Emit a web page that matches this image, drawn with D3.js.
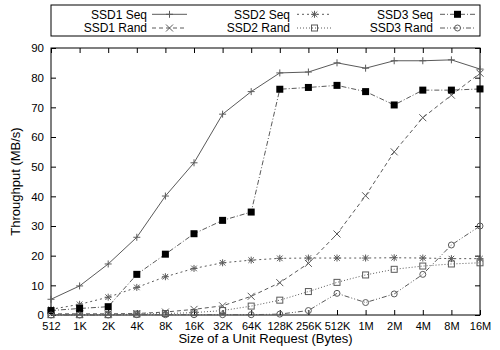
<!DOCTYPE html>
<html><head><meta charset="utf-8">
<script src="https://cdn.jsdelivr.net/npm/d3@7"></script>
<style>
body{margin:0;background:#fff}
svg text{font-family:"Liberation Sans",Arial,Helvetica,sans-serif;fill:#000}
</style>
</head><body>
<svg id="chart" width="500" height="350"></svg>
<script>
// ---- data ----
const categories = ["512","1K","2K","4K","8K","16K","32K","64K","128K","256K","512K","1M","2M","4M","8M","16M"];
const ssd1Seq  = [5.3, 9.8, 17.2, 26.2, 40.1, 51.3, 67.7, 75.3, 81.6, 81.9, 85.0, 83.2, 85.7, 85.7, 86.0, 82.9];
const ssd1Rand = [0.4, 0.4, 0.4, 0.5, 1.0, 1.9, 3.1, 6.3, 10.9, 17.4, 27.3, 40.2, 55.0, 66.5, 74.1, 81.5];
const ssd2Seq  = [1.9, 3.6, 6.0, 9.3, 12.9, 15.7, 17.6, 18.5, 19.1, 19.2, 19.2, 19.2, 19.3, 19.2, 19.0, 19.0];
const ssd2Rand = [0.1, 0.1, 0.1, 0.3, 0.5, 0.8, 1.5, 3.0, 5.0, 7.9, 11.0, 13.5, 15.4, 16.5, 17.2, 17.6];
const ssd3Seq  = [1.5, 2.2, 2.8, 13.7, 20.5, 27.4, 31.9, 34.7, 76.1, 76.7, 77.4, 75.3, 70.8, 75.8, 75.8, 76.2];
const ssd3Rand = [0.0, 0.0, 0.0, 0.1, 0.1, 0.1, 0.1, 0.1, 0.3, 1.5, 7.3, 4.2, 7.1, 13.7, 23.6, 30.0];
const yTicks = [0,10,20,30,40,50,60,70,80,90];
const seriesNames = ["SSD1 Seq","SSD1 Rand","SSD2 Seq","SSD2 Rand","SSD3 Seq","SSD3 Rand"];
const xTitle = "Size of a Unit Request (Bytes)";
const yTitle = "Throughput (MB/s)";

// ---- styling ----
const styles = [
  {dash:null,        marker:"plus"},
  {dash:"4,3",       marker:"cross"},
  {dash:"2,3",       marker:"star"},
  {dash:"1,2",       marker:"box"},
  {dash:"5,2,1,2",   marker:"fbox"},
  {dash:"5,2,1,2,1,2", marker:"circle"}
];
const allValues = [ssd1Seq, ssd1Rand, ssd2Seq, ssd2Rand, ssd3Seq, ssd3Rand];
const series = seriesNames.map((n,i)=>({name:n, values:allValues[i], ...styles[i]}));

const lineColor = "#5a5a5a";
const svg = d3.select("#chart");
const L=51, R=480, T=48, B=315;
const x = d3.scalePoint().domain(categories).range([L,R]);
const y = d3.scaleLinear().domain([0,90]).range([B,T]);

// axes
svg.append("g").attr("transform",`translate(0,${B})`)
  .call(d3.axisBottom(x).tickSizeInner(-5).tickSizeOuter(0).tickPadding(7))
  .call(g=>{g.select(".domain").remove(); g.selectAll("line").attr("stroke","#000");
    g.selectAll("text").attr("font-size",11).attr("font-family","Liberation Sans, Arial, sans-serif");});
svg.append("g").attr("transform",`translate(0,${T})`)
  .call(d3.axisTop(x).tickSizeInner(-5).tickSizeOuter(0).tickFormat(""))
  .call(g=>{g.select(".domain").remove(); g.selectAll("line").attr("stroke","#000");});
svg.append("g").attr("transform",`translate(${L},0)`)
  .call(d3.axisLeft(y).tickValues(yTicks).tickSizeInner(-5).tickSizeOuter(0).tickPadding(7))
  .call(g=>{g.select(".domain").remove(); g.selectAll("line").attr("stroke","#000");
    g.selectAll("text").attr("font-size",11.5).attr("font-family","Liberation Sans, Arial, sans-serif");});
svg.append("g").attr("transform",`translate(${R},0)`)
  .call(d3.axisRight(y).tickValues(yTicks).tickSizeInner(-5).tickSizeOuter(0).tickFormat(""))
  .call(g=>{g.select(".domain").remove(); g.selectAll("line").attr("stroke","#000");});
svg.append("rect").attr("x",L).attr("y",T).attr("width",R-L).attr("height",B-T)
  .attr("fill","none").attr("stroke","#000").attr("stroke-width",1);

// titles
svg.append("text").attr("x",(L+R)/2).attr("y",343).attr("text-anchor","middle")
  .attr("font-size",13).text(xTitle);
svg.append("text").attr("transform",`translate(15,${(T+B)/2}) rotate(-90)`)
  .attr("text-anchor","middle").attr("dy","0.35em").attr("font-size",13).text(yTitle);

function drawMarker(g, type, cx, cy){
  const s=3.5;
  if(type==="plus"||type==="star"){
    g.append("path").attr("d",`M${cx-s},${cy}H${cx+s}M${cx},${cy-s}V${cy+s}`).attr("stroke",lineColor).attr("fill","none");
  }
  if(type==="cross"||type==="star"){
    const c=type==="star"?2.8:3.5;
    g.append("path").attr("d",`M${cx-c},${cy-c}L${cx+c},${cy+c}M${cx-c},${cy+c}L${cx+c},${cy-c}`).attr("stroke",lineColor).attr("fill","none");
  }
  if(type==="box"){
    g.append("rect").attr("x",cx-3).attr("y",cy-3).attr("width",6).attr("height",6).attr("fill","none").attr("stroke",lineColor);
  }
  if(type==="fbox"){
    g.append("rect").attr("x",cx-3.5).attr("y",cy-3.5).attr("width",7).attr("height",7).attr("fill","#000");
  }
  if(type==="circle"){
    g.append("circle").attr("cx",cx).attr("cy",cy).attr("r",3).attr("fill","none").attr("stroke",lineColor);
  }
}

const line = d3.line().x((d,i)=>x(categories[i])).y(d=>y(d));
const plot = svg.append("g");
series.forEach(s=>{
  plot.append("path").datum(s.values).attr("d",line).attr("fill","none")
    .attr("stroke",lineColor).attr("stroke-width",1)
    .attr("stroke-dasharray",s.dash);
  const mg = plot.append("g");
  s.values.forEach((v,i)=>drawMarker(mg, s.marker, x(categories[i]), y(v)));
});

// legend
svg.append("rect").attr("x",L).attr("y",5).attr("width",R-L).attr("height",31)
  .attr("fill","#fff").attr("stroke","#000");
const colTextEnd=[147,290,433], colSample=[152,297,440];
series.forEach((s,i)=>{
  const col=Math.floor(i/2), row=i%2;
  const cy= row===0?14.3:28;
  const lg=svg.append("g");
  lg.append("text").attr("x",colTextEnd[col]).attr("y",cy).attr("dy","0.35em")
    .attr("text-anchor","end").attr("font-size",12).text(s.name);
  lg.append("line").attr("x1",colSample[col]).attr("x2",colSample[col]+35)
    .attr("y1",cy).attr("y2",cy).attr("stroke",lineColor).attr("stroke-dasharray",s.dash);
  drawMarker(lg, s.marker, colSample[col]+17.5, cy);
});
</script>
</body></html>
